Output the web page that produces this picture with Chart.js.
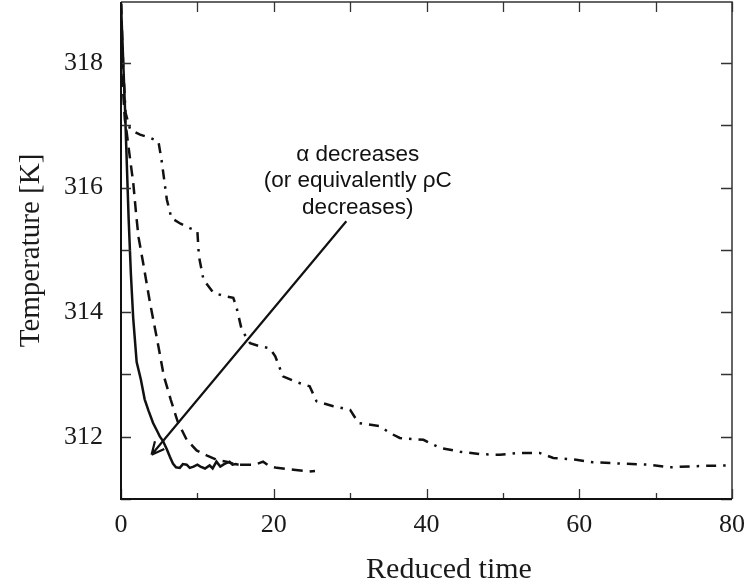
<!DOCTYPE html>
<html>
<head>
<meta charset="utf-8">
<script src="https://cdn.jsdelivr.net/npm/chart.js@4"></script>
<style>
  html, body { margin: 0; padding: 0; background: #fff; }
  #wrap { width: 749px; height: 585px; }
</style>
</head>
<body>
<div id="wrap"><canvas id="temp-chart" width="749" height="585"></canvas></div>
<script>
// ── Datos ───────────────────────────────────────────
const solidT   = [0, 0.5, 1.0, 1.3, 1.6, 2.05, 2.6, 3.1, 3.6, 4.2, 4.7, 5.1, 5.5, 6.0, 6.4, 6.8, 7.2, 7.7,
                  8.1, 8.6, 9.0, 9.5, 10.0, 10.4, 11.0, 11.6, 12.0, 12.5, 13.0, 13.5, 14.2, 14.6, 15.0, 15.4];
const solidY   = [318.95, 317.35, 315.5, 314.6, 313.9, 313.2, 312.92, 312.6, 312.42, 312.22, 312.1, 312.0, 311.93,
                  311.8, 311.68, 311.57, 311.51, 311.5, 311.56, 311.55, 311.5, 311.52, 311.55, 311.52, 311.49,
                  311.54, 311.49, 311.6, 311.52, 311.56, 311.6, 311.55, 311.56, 311.55];

const dashedT  = [0, 0.25, 0.5, 0.75, 1.2, 1.6, 2.0, 2.3, 2.9, 3.8, 4.9, 5.6, 6.5, 7.4, 8.6, 9.9, 11.2,
                  12.5, 13.8, 15.1, 16.5, 17.5, 18.6, 19.4, 20.4, 22.6, 24.7, 25.4];
const dashedY  = [318.95, 317.6, 317.1, 316.88, 316.45, 316.08, 315.55, 315.2, 314.79, 314.15, 313.45, 312.98,
                  312.6, 312.25, 311.95, 311.78, 311.7, 311.63, 311.6, 311.55, 311.55, 311.55, 311.6, 311.53,
                  311.5, 311.47, 311.44, 311.45];

const dashDotT = [0, 0.3, 0.6, 1.2, 2.5, 3.8, 4.9, 5.3, 6.0, 6.6, 7.8, 9.0, 10.0, 10.2, 10.8, 12.1, 13.5,
                  14.7, 15.1, 15.8, 16.9, 18.2, 19.5, 20.2, 21.2, 22.9, 24.7, 25.6, 27.8, 30.0, 31.1, 33.9,
                  35.2, 36.5, 39.6, 41.8, 44.4, 47.0, 49.6, 52.2, 54.8, 56.6, 59.6, 61.8, 65.3, 69.2, 71.9,
                  75.8, 80];
const dashDotY = [318.95, 317.9, 317.2, 316.93, 316.85, 316.8, 316.74, 316.45, 315.81, 315.51, 315.42, 315.35,
                  315.3, 314.9, 314.52, 314.31, 314.26, 314.23, 314.09, 313.72, 313.5, 313.45, 313.42, 313.29,
                  312.97, 312.88, 312.81, 312.57, 312.49, 312.43, 312.22, 312.17, 312.06, 311.98, 311.95,
                  311.82, 311.76, 311.72, 311.71, 311.74, 311.74, 311.66, 311.63, 311.59, 311.57, 311.55,
                  311.51, 311.53, 311.54];

const xTicks = [0, 10, 20, 30, 40, 50, 60, 70, 80];
const yTicks = [311, 312, 313, 314, 315, 316, 317, 318];

const noteLines = ['α decreases', '(or equivalently ρC', 'decreases)'];

// anotación (en unidades de datos)
const NOTE_AT    = { x: 31.0, y: 316.53 };
const ARROW_FROM = { x: 29.5, y: 315.46 };
const ARROW_TO   = { x: 4.0,  y: 311.71 };

const pts = (xs, ys) => xs.map((x, i) => ({ x, y: ys[i] }));
const noPad = s => { s.paddingTop = 0; s.paddingBottom = 0; s.paddingLeft = 0; s.paddingRight = 0; };

// ── Marco, ticks hacia dentro y flecha ───────────────
const framePlugin = {
  id: 'frame',
  afterDatasetsDraw(chart) {
    const { ctx, chartArea: a, scales: { x, y } } = chart;
    ctx.save();
    ctx.lineCap = 'butt';

    // ticks
    ctx.strokeStyle = '#333';
    ctx.lineWidth = 1.3;
    xTicks.forEach(v => {
      const px = Math.round(x.getPixelForValue(v)) + 0.5;
      const len = v % 20 === 0 ? 10 : 6;
      ctx.beginPath();
      ctx.moveTo(px, a.bottom); ctx.lineTo(px, a.bottom - len);
      ctx.moveTo(px, a.top);    ctx.lineTo(px, a.top + 10);
      ctx.stroke();
    });
    yTicks.forEach(v => {
      const py = Math.round(y.getPixelForValue(v)) + 0.5;
      ctx.beginPath();
      ctx.moveTo(a.left, py);  ctx.lineTo(a.left + 10, py);
      ctx.moveTo(a.right, py); ctx.lineTo(a.right - 11, py);
      ctx.stroke();
    });

    // marco
    ctx.strokeStyle = '#333';
    ctx.lineWidth = 1.5;
    ctx.beginPath();
    ctx.moveTo(a.left, a.top); ctx.lineTo(a.right, a.top); ctx.lineTo(a.right, a.bottom);
    ctx.stroke();
    ctx.strokeStyle = '#111';
    ctx.lineWidth = 2;
    ctx.beginPath();
    ctx.moveTo(a.left, a.top); ctx.lineTo(a.left, a.bottom); ctx.lineTo(a.right, a.bottom);
    ctx.stroke();

    // flecha
    const x0 = x.getPixelForValue(ARROW_FROM.x), y0 = y.getPixelForValue(ARROW_FROM.y);
    const x1 = x.getPixelForValue(ARROW_TO.x),   y1 = y.getPixelForValue(ARROW_TO.y);
    const ang = Math.atan2(y1 - y0, x1 - x0);
    ctx.strokeStyle = '#111';
    ctx.lineWidth = 2.2;
    ctx.beginPath();
    ctx.moveTo(x0, y0); ctx.lineTo(x1, y1);
    [-0.45, 0.45].forEach(d => {
      ctx.moveTo(x1, y1);
      ctx.lineTo(x1 - 14 * Math.cos(ang + d), y1 - 14 * Math.sin(ang + d));
    });
    ctx.stroke();

    // texto
    ctx.fillStyle = '#111';
    ctx.font = '22.5px "Liberation Sans", Arial, sans-serif';
    ctx.textAlign = 'center';
    ctx.textBaseline = 'middle';
    const tx = x.getPixelForValue(NOTE_AT.x), ty = y.getPixelForValue(NOTE_AT.y);
    noteLines.forEach((s, i) => ctx.fillText(s, tx, ty + i * 26.5));
    ctx.restore();
  }
};

const serif = '"Liberation Serif", "Times New Roman", serif';

new Chart(document.getElementById('temp-chart').getContext('2d'), {
  type: 'line',
  data: {
    datasets: [
      {
        label: 'sólida',
        data: pts(solidT, solidY),
        borderColor: '#111', borderWidth: 2.5,
        pointRadius: 0, tension: 0, fill: false,
      },
      {
        label: 'discontinua',
        data: pts(dashedT, dashedY),
        borderColor: '#111', borderWidth: 2.5, borderDash: [11, 7],
        pointRadius: 0, tension: 0, fill: false,
      },
      {
        label: 'punto-raya',
        data: pts(dashDotT, dashDotY),
        borderColor: '#111', borderWidth: 2.5, borderDash: [10, 7, 2.5, 7],
        pointRadius: 0, tension: 0, fill: false,
      }
    ]
  },
  options: {
    responsive: false, animation: false,
    layout: { padding: { top: 2, right: 17, left: 0, bottom: 0 } },
    plugins: { legend: { display: false }, tooltip: { enabled: false } },
    scales: {
      x: {
        type: 'linear', min: 0, max: 80,
        afterFit: s => { s.height = 86; noPad(s); },
        afterBuildTicks: s => { s.ticks = xTicks.map(v => ({ value: v })); },
        grid: { display: false }, border: { display: false },
        ticks: {
          color: '#1a1a1a', padding: 3, maxRotation: 0,
          font: { family: serif, size: 26 },
          callback: v => v % 20 === 0 ? v : ''
        },
        title: {
          display: true, text: '      Reduced time', color: '#1a1a1a',
          font: { family: serif, size: 30, lineHeight: 1 }, padding: 0
        }
      },
      y: {
        type: 'linear', min: 311, max: 318.98,
        afterFit: s => { s.width = 121; noPad(s); },
        afterBuildTicks: s => { s.ticks = yTicks.map(v => ({ value: v })); },
        grid: { display: false }, border: { display: false },
        ticks: {
          color: '#1a1a1a', padding: 10,
          font: { family: serif, size: 26 },
          callback: v => v % 2 === 0 ? v : ''
        },
        title: {
          display: true, text: 'Temperature [K]', color: '#1a1a1a',
          font: { family: serif, size: 29, lineHeight: 1.2 }, padding: { top: 14, bottom: 0 }
        }
      }
    }
  },
  plugins: [framePlugin]
});
</script>
</body>
</html>
